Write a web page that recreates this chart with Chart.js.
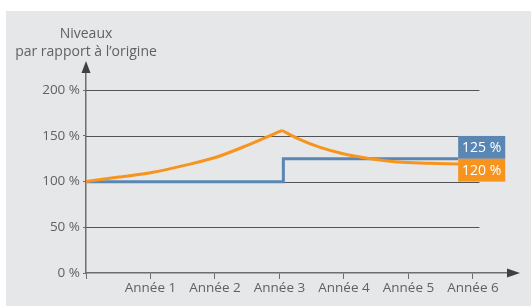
<!DOCTYPE html>
<html>
<head>
<meta charset="utf-8">
<script src="https://cdn.jsdelivr.net/npm/chart.js@4/dist/chart.umd.min.js"></script>
<style>
html,body{margin:0;padding:0;background:#ffffff;}
canvas{display:block;}
</style>
</head>
<body>
<canvas id="c" width="531" height="307"></canvas>
<script>
// ---- data ----
const yearTicks = [0, 1, 2, 3, 4, 5, 6];
const yearLabels = ['', 'Année 1', 'Année 2', 'Année 3', 'Année 4', 'Année 5', 'Année 6'];
const levelTicks = [0, 50, 100, 150, 200];
const levelLabels = ['0 %', '50 %', '100 %', '150 %', '200 %'];
const axisTitle = ['Niveaux', 'par rapport à l\u2019origine'];

// blue series (step)
const blueX = [0, 3.06, 3.06, 5.77];
const blueY = [100, 100, 125, 125];
// orange series: rise then decay
const orangeRiseX = [0, 0.51, 1.02, 1.51, 2.03, 2.51, 3.04];
const orangeRiseY = [100, 105, 110, 117.5, 127, 140, 156];
const orangeFallX = [3.04, 3.32, 3.63, 3.94, 4.25, 4.56, 4.84, 5.3, 5.77];
const orangeFallY = [156, 146, 137.5, 131.4, 127, 123.6, 121.4, 120.1, 119.2];
const endLabels = ['125 %', '120 %'];
const endBands = [[125, 150], [100, 125]];

const BLUE = '#5a86b3';
const ORANGE = '#f7941d';
const TEXT = '#606163';
const FONT = "'Open Sans', sans-serif";

const pts = (xs, ys) => xs.map((x, i) => ({x, y: ys[i]}));

const decor = {
  id: 'decor',
  beforeDraw(chart) {
    const ctx = chart.ctx;
    ctx.save();
    ctx.fillStyle = '#e6e7e9';
    ctx.fillRect(6, 11, 525, 295);
    ctx.restore();
  },
  beforeDatasetsDraw(chart) {
    const ctx = chart.ctx, xs = chart.scales.x, ys = chart.scales.y;
    ctx.save();
    ctx.strokeStyle = '#525355';
    ctx.lineWidth = 1;
    levelTicks.forEach(v => {
      if (v === 0) return;
      const y = Math.round(ys.getPixelForValue(v)) + 0.5;
      ctx.beginPath();
      ctx.moveTo(xs.getPixelForValue(0), y);
      ctx.lineTo(xs.getPixelForValue(6.1), y);
      ctx.stroke();
    });
    ctx.restore();
  },
  afterDraw(chart) {
    const ctx = chart.ctx, xs = chart.scales.x, ys = chart.scales.y, ca = chart.chartArea;
    ctx.save();
    // arrows
    ctx.fillStyle = '#3f4042';
    const x0 = xs.getPixelForValue(0), y0 = ys.getPixelForValue(0);
    ctx.beginPath();
    ctx.moveTo(x0, ca.top - 11);
    ctx.lineTo(x0 - 4.5, ca.top + 1);
    ctx.lineTo(x0 + 4.5, ca.top + 1);
    ctx.closePath();
    ctx.fill();
    ctx.beginPath();
    ctx.moveTo(ca.right + 12, y0);
    ctx.lineTo(ca.right - 1, y0 - 4.5);
    ctx.lineTo(ca.right - 1, y0 + 4.5);
    ctx.closePath();
    ctx.fill();
    // title
    ctx.fillStyle = TEXT;
    ctx.font = '14px ' + FONT;
    ctx.textAlign = 'center';
    ctx.textBaseline = 'alphabetic';
    ctx.fillText(axisTitle[0], x0, 38);
    ctx.fillText(axisTitle[1], x0, 56);
    // end label boxes
    const colors = [BLUE, ORANGE];
    const bx0 = xs.getPixelForValue(5.77), bx1 = xs.getPixelForValue(6.5);
    endBands.forEach((b, i) => {
      const yt = ys.getPixelForValue(b[1]), yb = ys.getPixelForValue(b[0]);
      ctx.fillStyle = colors[i];
      ctx.fillRect(bx0, yt, bx1 - bx0, yb - yt);
      ctx.fillStyle = '#ffffff';
      ctx.font = '14px ' + FONT;
      ctx.textAlign = 'center';
      ctx.textBaseline = 'middle';
      ctx.fillText(endLabels[i], (bx0 + bx1) / 2, (yt + yb) / 2 + 1);
    });
    ctx.restore();
  }
};

new Chart(document.getElementById('c'), {
  type: 'line',
  data: {
    datasets: [
      {data: pts(blueX, blueY), borderColor: BLUE, borderWidth: 3, pointRadius: 0, tension: 0, fill: false, order: 2},
      {data: pts(orangeRiseX, orangeRiseY), borderColor: ORANGE, borderWidth: 3, pointRadius: 0, cubicInterpolationMode: 'monotone', fill: false, order: 1},
      {data: pts(orangeFallX, orangeFallY), borderColor: ORANGE, borderWidth: 3, pointRadius: 0, cubicInterpolationMode: 'monotone', fill: false, order: 1}
    ]
  },
  options: {
    responsive: false,
    animation: false,
    devicePixelRatio: 1,
    layout: {padding: {left: 6, right: 23, top: 72, bottom: 9}},
    plugins: {legend: {display: false}, tooltip: {enabled: false}},
    scales: {
      x: {
        type: 'linear', min: 0, max: 6.543,
        afterBuildTicks: s => { s.ticks = yearTicks.map(v => ({value: v})); },
        afterFit: s => { s.height = 25; },
        grid: {drawOnChartArea: false, drawTicks: true, tickLength: 6, color: '#6d6e70', lineWidth: 1},
        border: {color: '#6d6e70', width: 1.5},
        ticks: {
          padding: 1, color: TEXT, font: {family: FONT, size: 13.5},
          maxRotation: 0, autoSkip: false,
          callback: v => yearLabels[yearTicks.indexOf(v)] ?? ''
        }
      },
      y: {
        min: 0, max: 220,
        afterBuildTicks: s => { s.ticks = levelTicks.map(v => ({value: v})); },
        afterFit: s => { s.width = 80; },
        grid: {drawOnChartArea: false, drawTicks: true, tickLength: 3, color: '#6d6e70', lineWidth: 1},
        border: {color: '#6d6e70', width: 1.5},
        ticks: {
          padding: 3, color: TEXT, font: {family: FONT, size: 13.5},
          callback: v => levelLabels[levelTicks.indexOf(v)] ?? ''
        }
      }
    }
  },
  plugins: [decor]
});
</script>
</body>
</html>
